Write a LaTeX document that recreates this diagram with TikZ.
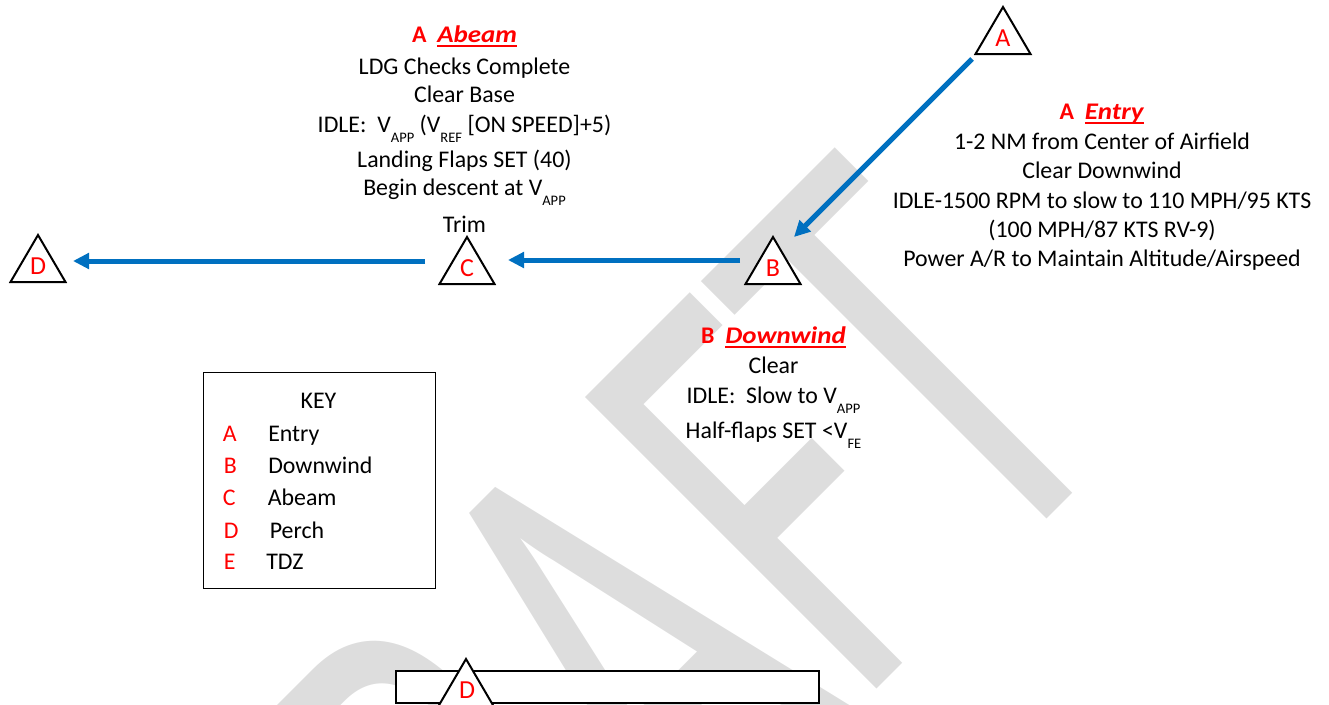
\documentclass[tikz,border=0pt]{standalone}
\usepackage{fontspec}
\setmainfont{Carlito}
\usetikzlibrary{arrows.meta}
\definecolor{arrowblue}{RGB}{0,112,192}
\definecolor{wmgray}{RGB}{221,221,221}
\newsavebox\ulbox
\newcommand\ulx[1]{\sbox\ulbox{#1}\rlap{\rule[-3.8pt]{\wd\ulbox}{1.5pt}}\usebox\ulbox}
\newcommand\hdword[1]{\ulx{\scalebox{1.13}[1]{\textit{#1}}}}
\newcommand\subx[1]{\raisebox{-7.9pt}{\fontsize{10.9}{12}\selectfont #1}}
\newcommand\trig[4]{%
  \draw[triline] (#2,#3) -- ++(-27.5,47) -- ++(55,0) -- cycle;
  \coordinate (t#1) at (#2,#3);
  \node[trilabel] (#1) at (#2,#3+39) {#4};
}
\tikzset{
  txt/.style={font=\fontsize{17.9}{21}\selectfont, inner sep=0pt, anchor=base},
  hd/.style={txt, text=red, font=\fontsize{17.9}{21}\selectfont\bfseries},
  keyl/.style={txt, text=red, anchor=base west},
  keyw/.style={txt, anchor=base west},
  triline/.style={draw=black, fill=white, line width=1.5pt, line join=miter},
  trilabel/.style={text=red, font=\fontsize{19.5}{22}\selectfont, inner sep=0pt, anchor=base},
  arr/.style={draw=arrowblue, line width=3.75pt, -{Triangle[length=12pt,width=11.5pt]}},
  frame/.style={draw=black, fill=white, line width=1pt},
}
\begin{document}
\begin{tikzpicture}[x=0.75pt, y=-0.75pt]
\useasboundingbox (0,0) rectangle (1329,704);
% watermark
\begin{scope}
\clip (0,0) rectangle (1329,704);
\node[text=wmgray, inner sep=0pt, anchor=base west, rotate=45, font=\fontsize{306}{310}\selectfont]
  (wm) at (356,1210) {\scalebox{1}[1.575]{DRAFT}};
\end{scope}

% triangles
\trig{A}{1003}{7}{A}
\trig{B}{773}{237}{B}
\trig{C}{467}{237}{C}
\trig{D}{38}{235}{D}

% arrows
\draw[arr] ([shift={(-31,52)}]tA) -- ([shift={(21,0)}]tB);
\draw[arr] ([shift={(-33,23)}]tB) -- ([shift={(41,23)}]tC);
\draw[arr] ([shift={(-42,24)}]tC) -- ([shift={(35,26)}]tD);

% Abeam block
\node[hd] (abh) at (464.5,42) {A\ \ \hdword{Abeam}};
\node[txt] (ab1) at (464.5,74) {LDG Checks Complete};
\node[txt] (ab2) at (464.5,102) {Clear Base};
\node[txt] (ab3) at (464.5,132) {IDLE:\ \ V\subx{APP} (V\subx{REF} [ON SPEED]+5)};
\node[txt] (ab4) at (464.5,167) {Landing Flaps SET (40)};
\node[txt] (ab5) at (464.5,195) {Begin descent at V\subx{APP}};
\node[txt] (ab6) at (464.5,232) {Trim};

% Entry block
\node[hd] (enh) at (1102,119) {A\ \ \hdword{Entry}};
\node[txt] (en1) at (1102,149) {1-2 NM from Center of Airfield};
\node[txt] (en2) at (1102,178) {Clear Downwind};
\node[txt] (en3) at (1102,208) {IDLE-1500 RPM to slow to 110 MPH/95 KTS};
\node[txt] (en4) at (1102,237) {(100 MPH/87 KTS RV-9)};
\node[txt] (en5) at (1102,266) {Power A/R to Maintain Altitude/Airspeed};

% Downwind block
\node[hd] (dwh) at (773.5,343) {B\ \ \hdword{Downwind}};
\node[txt] (dw1) at (773.5,373) {Clear};
\node[txt] (dw2) at (773.5,403) {IDLE:\ \ Slow to V\subx{APP}};
\node[txt] (dw3) at (773.5,438) {Half-flaps SET <V\subx{FE}};

% Key
\node[frame, minimum width=232*0.75pt, minimum height=216*0.75pt, anchor=north west, inner sep=0pt] (key) at (203,372) {};
\node[txt] (keyt) at (318.5,408) {KEY};
\node[keyl] (kA) at (222.5,441) {A};
\node[keyl] (kB) at (223.5,473) {B};
\node[keyl] (kC) at (222.5,505) {C};
\node[keyl] (kD) at (223.5,538) {D};
\node[keyl] (kE) at (223.5,569) {E};
\node[keyw] (wA) at (268,441) {Entry};
\node[keyw] (wB) at (268,473) {Downwind};
\node[keyw] (wC) at (267.5,505) {Abeam};
\node[keyw] (wD) at (269.5,538) {Perch};
\node[keyw] (wE) at (266,569) {TDZ};

% bottom bar and perch
\node[draw=black, fill=white, line width=1.5pt, inner sep=0pt, minimum width=423*0.75pt, minimum height=32*0.75pt, anchor=north west] (bar) at (395,670) {};
\draw[triline] (466,659) -- ++(-27.5,47) -- ++(55,0) -- cycle;
\node[trilabel] (D2) at (467,698) {D};
\end{tikzpicture}
\end{document}
